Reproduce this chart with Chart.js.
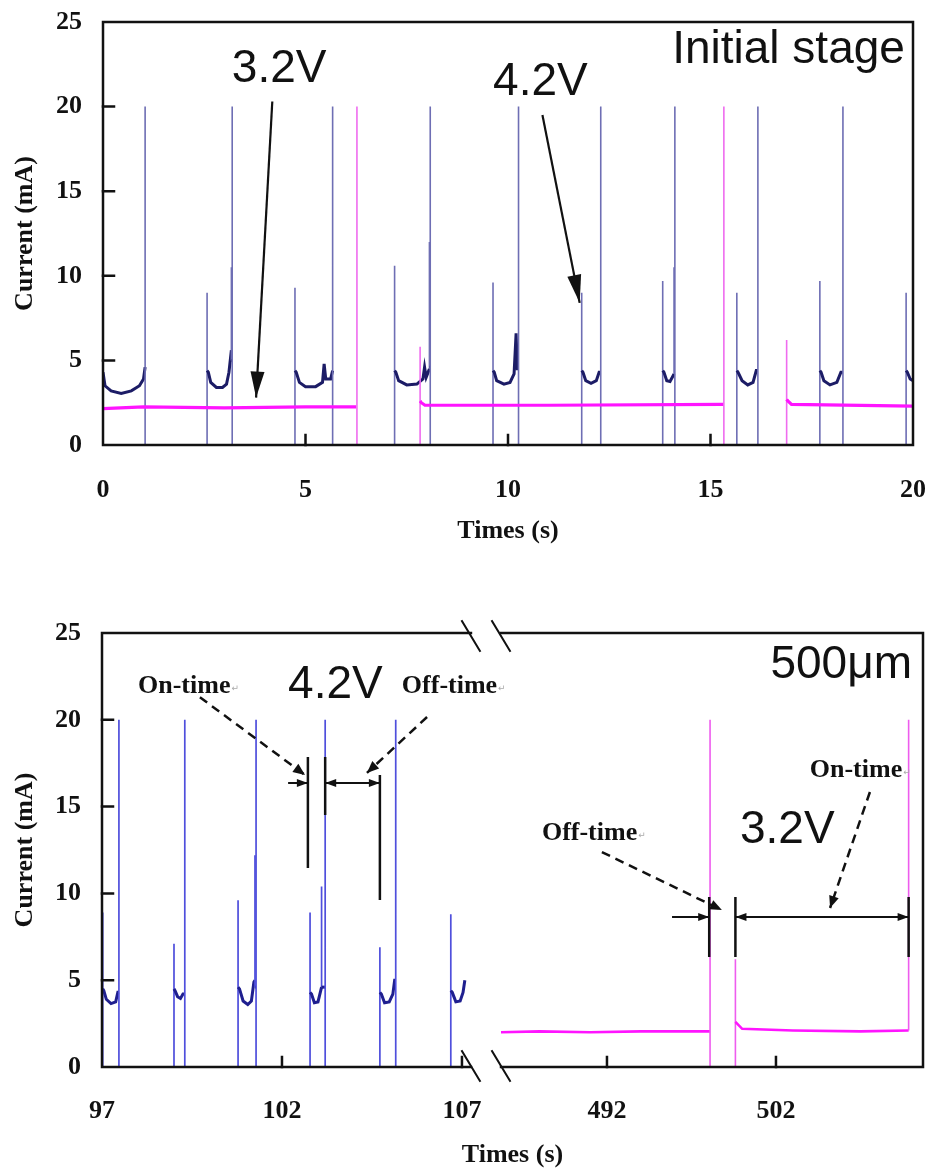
<!DOCTYPE html>
<html>
<head>
<meta charset="utf-8">
<script src="https://cdn.jsdelivr.net/npm/chart.js@4.4.1/dist/chart.umd.min.js"></script>
<style>
  html, body { margin: 0; padding: 0; background: #fff; }
  canvas { display: block; }
</style>
</head>
<body>
<canvas id="top" width="930" height="560"></canvas>
<canvas id="bottom" width="930" height="609"></canvas>
<script>
// ---- data ----
// initial stage, 4.2 V (blue)
const topT42 = [0, 0.05, 0.2, 0.45, 0.7, 0.9, 1.0, 1.04, 1.04, 1.04,
  2.57, 2.57, 2.57, 2.6, 2.66, 2.8, 2.95, 3.05, 3.11, 3.17, 3.17, 3.17, 3.19, 3.19, 3.19,
  4.74, 4.74, 4.74, 4.77, 4.85, 5.0, 5.25, 5.42, 5.46, 5.5, 5.62, 5.67, 5.67, 5.67,
  7.2, 7.2, 7.2, 7.23, 7.3, 7.5, 7.75, 7.9, 7.94, 7.98, 8.06, 8.06, 8.06, 8.08, 8.08, 8.08,
  9.63, 9.63, 9.63, 9.66, 9.72, 9.9, 10.05, 10.15, 10.2, 10.23, 10.26, 10.26, 10.26,
  11.82, 11.82, 11.82, 11.85, 11.92, 12.05, 12.18, 12.25, 12.29, 12.29, 12.29,
  13.82, 13.82, 13.82, 13.85, 13.92, 14.0, 14.1, 14.1, 14.1, 14.12, 14.12, 14.12,
  15.65, 15.65, 15.65, 15.68, 15.78, 15.92, 16.05, 16.13, 16.17, 16.17, 16.17,
  17.7, 17.7, 17.7, 17.73, 17.8, 17.95, 18.12, 18.22, 18.27, 18.27, 18.27,
  19.83, 19.83, 19.83, 19.86, 19.93, 20];
const topI42 = [4.3, 3.5, 3.2, 3.05, 3.2, 3.5, 3.9, 4.6, 20, 0,
  0, 9.0, 4.4, 4.3, 3.7, 3.4, 3.4, 3.6, 4.3, 5.6, 10.5, 5.0, 5.0, 20, 0,
  0, 9.3, 4.4, 4.3, 3.7, 3.45, 3.45, 3.7, 4.8, 3.9, 3.9, 4.4, 20, 0,
  0, 10.6, 4.4, 4.3, 3.8, 3.55, 3.6, 3.9, 4.6, 4.0, 4.5, 12.0, 4.6, 4.6, 20, 0,
  0, 9.6, 4.4, 4.3, 3.8, 3.6, 3.7, 4.2, 6.6, 4.5, 4.5, 20, 0,
  0, 9.0, 4.4, 4.3, 3.8, 3.65, 3.8, 4.3, 4.3, 20, 0,
  0, 9.7, 4.4, 4.3, 3.8, 3.75, 4.2, 10.5, 4.5, 4.5, 20, 0,
  0, 9.0, 4.4, 4.3, 3.8, 3.55, 3.7, 4.4, 4.4, 20, 0,
  0, 9.7, 4.4, 4.3, 3.8, 3.55, 3.7, 4.3, 4.3, 20, 0,
  0, 9.0, 4.4, 4.3, 3.9, 3.8];
// initial stage, 3.2 V (magenta)
const topT32 = [0, 1, 3, 5, 6.25, 6.27, 6.27, 6.27, 7.83, 7.83, 7.83, 7.86, 7.95, 11, 15.3, 15.33, 15.33, 15.33,
  16.88, 16.88, 16.88, 16.91, 17.0, 20];
const topI32 = [2.15, 2.25, 2.2, 2.25, 2.25, 2.25, 20, 0, 0, 5.8, 2.6, 2.5, 2.35, 2.35, 2.4, 2.4, 20, 0,
  0, 6.2, 2.7, 2.6, 2.4, 2.3];

// 500 µm, 4.2 V (blue)
const botT42 = [97.02, 97.02, 97.02, 97.05, 97.12, 97.25, 97.38, 97.44, 97.47, 97.47, 97.47,
  99.0, 99.0, 99.0, 99.03, 99.1, 99.18, 99.25, 99.3, 99.3, 99.3,
  100.78, 100.78, 100.78, 100.82, 100.92, 101.05, 101.15, 101.22, 101.25, 101.25, 101.25, 101.28, 101.28, 101.28,
  102.78, 102.78, 102.78, 102.82, 102.9, 103.0, 103.1, 103.1, 103.1, 103.2, 103.2, 103.2,
  104.72, 104.72, 104.72, 104.76, 104.85, 104.98, 105.08, 105.13, 105.16, 105.16, 105.16,
  106.69, 106.69, 106.69, 106.73, 106.83, 106.95, 107.03, 107.08];
const botI42 = [0, 8.9, 4.5, 4.4, 3.9, 3.65, 3.75, 4.3, 4.3, 20, 0,
  0, 7.1, 4.5, 4.4, 4.05, 3.95, 4.2, 4.2, 20, 0,
  0, 9.6, 4.6, 4.5, 3.8, 3.6, 3.8, 4.9, 5.0, 12.2, 4.6, 4.6, 20, 0,
  0, 8.9, 4.3, 4.2, 3.7, 3.75, 4.6, 10.4, 4.6, 4.6, 20, 0,
  0, 6.9, 4.3, 4.2, 3.7, 3.75, 4.2, 5.0, 5.0, 20, 0,
  0, 8.8, 4.4, 4.3, 3.75, 3.8, 4.3, 5.0];
// 500 µm, 3.2 V (magenta)
const botT32 = [485.73, 488, 491, 494, 498.05, 498.1, 498.1, 498.1, 499.6, 499.6, 499.6, 499.7, 500, 503, 507, 509.8, 509.85, 509.85];
const botI32 = [2.0, 2.05, 2.0, 2.05, 2.05, 2.05, 20, 0, 0, 6.2, 2.6, 2.5, 2.2, 2.1, 2.05, 2.1, 2.1, 20];

const topTicksX = [0, 5, 10, 15, 20];
const botTicksX = [97, 102, 107, 492, 502];
const ticksY = [0, 5, 10, 15, 20, 25];

// broken time axis of the lower panel
const BREAK_LEFT = [97, 107.25];
const BREAK_RIGHT = [485.73, 510.7];
const BREAK_GAP = [0.4494, 0.486];

// ---- scale with a break ----
const Linear = Chart.LinearScale || Chart.registry.getScale('linear');
class BrokenScale extends Linear {
  getPixelForValue(v) {
    if (v === null || v === undefined || isNaN(v)) return NaN;
    let f;
    if (v <= BREAK_LEFT[1]) {
      f = (v - BREAK_LEFT[0]) / (BREAK_LEFT[1] - BREAK_LEFT[0]) * BREAK_GAP[0];
    } else if (v >= BREAK_RIGHT[0]) {
      f = BREAK_GAP[1] + (v - BREAK_RIGHT[0]) / (BREAK_RIGHT[1] - BREAK_RIGHT[0]) * (1 - BREAK_GAP[1]);
    } else {
      f = BREAK_GAP[0] + (v - BREAK_LEFT[1]) / (BREAK_RIGHT[0] - BREAK_LEFT[1]) * (BREAK_GAP[1] - BREAK_GAP[0]);
    }
    return this.getPixelForDecimal(f);
  }
  getValueForPixel(p) {
    const f = this.getDecimalForPixel(p);
    if (f <= BREAK_GAP[0]) return BREAK_LEFT[0] + f / BREAK_GAP[0] * (BREAK_LEFT[1] - BREAK_LEFT[0]);
    return BREAK_RIGHT[0] + (f - BREAK_GAP[1]) / (1 - BREAK_GAP[1]) * (BREAK_RIGHT[1] - BREAK_RIGHT[0]);
  }
}
BrokenScale.id = 'broken';
BrokenScale.defaults = Linear.defaults;
Chart.register(BrokenScale);

// ---- helpers ----
const pts = (ts, vs) => ts.map((t, i) => ({ x: t, y: vs[i] }));
const SERIF = '"Liberation Serif", "Times New Roman", serif';
const SANS = '"Liberation Sans", Arial, sans-serif';

// vertical strokes are thin and pale, the noisy plateaus are thick
function traceStyle(spikeColor, bodyColor, spikeW, bodyW) {
  const thin = c => c.p0.parsed.x === c.p1.parsed.x || (c.p0.parsed.y === 0 && c.p1.parsed.y === 0);
  return {
    borderColor: c => thin(c) ? spikeColor : bodyColor,
    borderWidth: c => thin(c) ? spikeW : bodyW
  };
}

function head(ctx, x1, y1, x2, y2, len, half) {
  const a = Math.atan2(y2 - y1, x2 - x1);
  const bx = x2 - len * Math.cos(a), by = y2 - len * Math.sin(a);
  ctx.beginPath();
  ctx.moveTo(x2, y2);
  ctx.lineTo(bx + half * Math.sin(a), by - half * Math.cos(a));
  ctx.lineTo(bx - half * Math.sin(a), by + half * Math.cos(a));
  ctx.closePath();
  ctx.fill();
}

function arrow(ctx, p, q, dashed, len, half) {
  ctx.setLineDash(dashed ? [9, 6] : []);
  ctx.beginPath();
  ctx.moveTo(p[0], p[1]);
  ctx.lineTo(q[0], q[1]);
  ctx.stroke();
  ctx.setLineDash([]);
  head(ctx, p[0], p[1], q[0], q[1], len, half);
}

function label(ctx, txt, p, font, align, mark) {
  ctx.font = font;
  ctx.textAlign = align;
  ctx.textBaseline = 'alphabetic';
  ctx.fillStyle = '#111';
  ctx.fillText(txt, p[0], p[1]);
  if (mark) {
    const w = ctx.measureText(txt).width;
    ctx.font = '9px "DejaVu Sans", sans-serif';
    ctx.textAlign = 'left';
    ctx.fillStyle = '#aaa';
    ctx.fillText('\u21b5', p[0] + w + 1, p[1] - 2);
  }
}

// box round the plot with inward ticks, optional break
function framePlugin(ticksX, broken) {
  return {
    id: 'frame',
    afterDatasetsDraw(chart) {
      const { ctx, chartArea: a, scales: { x, y } } = chart;
      ctx.save();
      ctx.strokeStyle = '#111';
      ctx.lineWidth = 2.5;
      ctx.lineCap = 'square';
      ctx.beginPath();
      if (broken) {
        const g0 = x.getPixelForValue(BREAK_LEFT[1]);
        const g1 = x.getPixelForValue(BREAK_RIGHT[0]);
        ctx.moveTo(g0, a.top); ctx.lineTo(a.left, a.top); ctx.lineTo(a.left, a.bottom); ctx.lineTo(g0, a.bottom);
        ctx.moveTo(g1, a.top); ctx.lineTo(a.right, a.top); ctx.lineTo(a.right, a.bottom); ctx.lineTo(g1, a.bottom);
        ctx.stroke();
        ctx.lineWidth = 2;
        ctx.beginPath();
        [g0, g1].forEach(g => {
          [a.top + 3, a.bottom - 1].forEach(yy => {
            ctx.moveTo(g - 9, yy - 15);
            ctx.lineTo(g + 9, yy + 15);
          });
        });
      } else {
        ctx.rect(a.left, a.top, a.right - a.left, a.bottom - a.top);
      }
      ctx.stroke();
      ctx.lineWidth = 2.5;
      ctx.beginPath();
      ticksY.slice(1, -1).forEach(v => {
        const py = y.getPixelForValue(v);
        ctx.moveTo(a.left, py); ctx.lineTo(a.left + 11, py);
      });
      ticksX.forEach(v => {
        const px = x.getPixelForValue(v);
        if (px - a.left < 3 || a.right - px < 3) return;
        ctx.moveTo(px, a.bottom); ctx.lineTo(px, a.bottom - 10);
      });
      ctx.stroke();
      ctx.restore();
    }
  };
}

// fixed axis boxes so the plot area lands where the figure has it
function axes(xOpts, leftWidth, xHeight, titlePad, tickPad) {
  const tickFont = { family: SERIF, weight: 'bold', size: 26 };
  return {
    x: Object.assign({
      grid: { display: false },
      border: { display: false },
      ticks: { font: tickFont, color: '#111', padding: tickPad, maxRotation: 0, autoSkip: false,
        callback: v => String(v) },
      title: { display: true, text: 'Times (s)', color: '#111',
        font: { family: SERIF, weight: 'bold', size: 26, lineHeight: 1 },
        padding: { top: 0, bottom: titlePad } },
      afterFit: s => { s.height = xHeight; s.paddingLeft = 0; s.paddingRight = 0; }
    }, xOpts),
    y: {
      min: 0, max: 25,
      grid: { display: false },
      border: { display: false },
      ticks: { font: tickFont, color: '#111', padding: 13, stepSize: 5 },
      afterBuildTicks: s => { s.ticks = ticksY.map(v => ({ value: v })); },
      title: { display: true, text: 'Current (mA)', color: '#111',
        font: { family: SERIF, weight: 'bold', size: 26, lineHeight: 1 },
        padding: { top: 12, bottom: 0 } },
      afterFit: s => { s.width = leftWidth; s.paddingTop = 0; s.paddingBottom = 0; }
    }
  };
}

// ---- upper panel ----
const topNotes = {
  id: 'topNotes',
  afterDraw(chart) {
    const { ctx, scales: { x, y } } = chart;
    const P = (t, v) => [x.getPixelForValue(t), y.getPixelForValue(v)];
    ctx.save();
    label(ctx, '3.2V', P(4.35, 21.45), '46px ' + SANS, 'center');
    label(ctx, '4.2V', P(10.8, 20.7), '46px ' + SANS, 'center');
    label(ctx, 'Initial stage', P(19.8, 22.6), '46px ' + SANS, 'right');
    ctx.strokeStyle = '#111';
    ctx.fillStyle = '#111';
    ctx.lineWidth = 2.2;
    arrow(ctx, P(4.18, 20.3), P(3.78, 2.8), false, 26, 7);
    arrow(ctx, P(10.85, 19.5), P(11.77, 8.4), false, 28, 7);
    ctx.restore();
  }
};

new Chart(document.getElementById('top'), {
  type: 'line',
  data: {
    datasets: [
      { label: '3.2V', data: pts(topT32, topI32), pointRadius: 0, tension: 0,
        segment: traceStyle('#ef6cef', '#ff14ff', 1.6, 3.2) },
      { label: '4.2V', data: pts(topT42, topI42), pointRadius: 0, tension: 0,
        segment: traceStyle('#6e6eb4', '#1c1c66', 1.6, 3) }
    ]
  },
  options: {
    responsive: false,
    animation: false,
    events: [],
    layout: { padding: { top: 22, right: 17, left: 0, bottom: 0 } },
    scales: axes({
      type: 'linear', min: 0, max: 20,
      afterBuildTicks: s => { s.ticks = topTicksX.map(v => ({ value: v })); }
    }, 103, 115, 16, 22),
    plugins: { legend: { display: false }, tooltip: { enabled: false } }
  },
  plugins: [framePlugin(topTicksX, false), topNotes]
});

// ---- lower panel ----
const botNotes = {
  id: 'botNotes',
  afterDraw(chart) {
    const { ctx, scales: { x, y } } = chart;
    const P = (t, v) => [x.getPixelForValue(t), y.getPixelForValue(v)];
    ctx.save();
    const bold = 'bold 26px ' + SERIF;
    label(ctx, 'On-time', P(98.0, 21.54), bold, 'left', true);
    label(ctx, '4.2V', P(102.17, 21.26), '46px ' + SANS, 'left');
    label(ctx, 'Off-time', P(105.33, 21.54), bold, 'left', true);
    label(ctx, '500\u03bcm', P(510.05, 22.4), '46px ' + SANS, 'right');
    label(ctx, 'On-time', P(504.0, 16.7), bold, 'left', true);
    label(ctx, '3.2V', P(499.87, 12.9), '46px ' + SANS, 'left');
    label(ctx, 'Off-time', P(488.15, 13.08), bold, 'left', true);

    ctx.strokeStyle = '#111';
    ctx.fillStyle = '#111';
    ctx.lineWidth = 2.5;
    // dashed pointers
    arrow(ctx, P(99.72, 21.3), P(102.64, 16.82), true, 12, 5);
    arrow(ctx, P(106.03, 20.16), P(104.36, 16.94), true, 12, 5);
    arrow(ctx, P(491.7, 12.38), P(498.8, 9.04), true, 12, 5);
    arrow(ctx, P(507.56, 15.84), P(505.2, 9.16), true, 12, 5);

    // dimension marks, 4.2 V
    ctx.beginPath();
    [[102.72, 17.86, 11.46], [103.2, 17.86, 14.52], [104.72, 16.82, 9.62]].forEach(([t, a, b]) => {
      const p = P(t, a), q = P(t, b);
      ctx.moveTo(p[0], p[1]); ctx.lineTo(q[0], q[1]);
    });
    ctx.stroke();
    ctx.lineWidth = 2;
    arrow(ctx, P(102.17, 16.36), P(102.72, 16.36), false, 11, 4);
    arrow(ctx, P(104.0, 16.36), P(103.2, 16.36), false, 11, 4);
    arrow(ctx, P(103.9, 16.36), P(104.72, 16.36), false, 11, 4);

    // dimension marks, 3.2 V
    ctx.lineWidth = 2.5;
    ctx.beginPath();
    [498.05, 499.6, 509.85].forEach(t => {
      const p = P(t, 9.79), q = P(t, 6.34);
      ctx.moveTo(p[0], p[1]); ctx.lineTo(q[0], q[1]);
    });
    ctx.stroke();
    ctx.lineWidth = 2;
    arrow(ctx, P(495.85, 8.64), P(498.05, 8.64), false, 11, 4);
    arrow(ctx, P(505, 8.64), P(499.6, 8.64), false, 11, 4);
    arrow(ctx, P(504.9, 8.64), P(509.85, 8.64), false, 11, 4);
    ctx.restore();
  }
};

new Chart(document.getElementById('bottom'), {
  type: 'line',
  data: {
    datasets: [
      { label: '3.2V', data: pts(botT32, botI32), pointRadius: 0, tension: 0,
        segment: traceStyle('#ee5cee', '#ff14ff', 1.6, 2.6) },
      { label: '4.2V', data: pts(botT42, botI42), pointRadius: 0, tension: 0,
        segment: traceStyle('#4f4fdc', '#1f1f8f', 1.7, 3) }
    ]
  },
  options: {
    responsive: false,
    animation: false,
    events: [],
    layout: { padding: { top: 73, right: 7, left: 0, bottom: 0 } },
    scales: axes({
      type: 'broken', min: BREAK_LEFT[0], max: BREAK_RIGHT[1],
      afterBuildTicks: s => { s.ticks = botTicksX.map(v => ({ value: v })); }
    }, 102, 102, 1, 21),
    plugins: { legend: { display: false }, tooltip: { enabled: false } }
  },
  plugins: [framePlugin(botTicksX, true), botNotes]
});
</script>
</body>
</html>
